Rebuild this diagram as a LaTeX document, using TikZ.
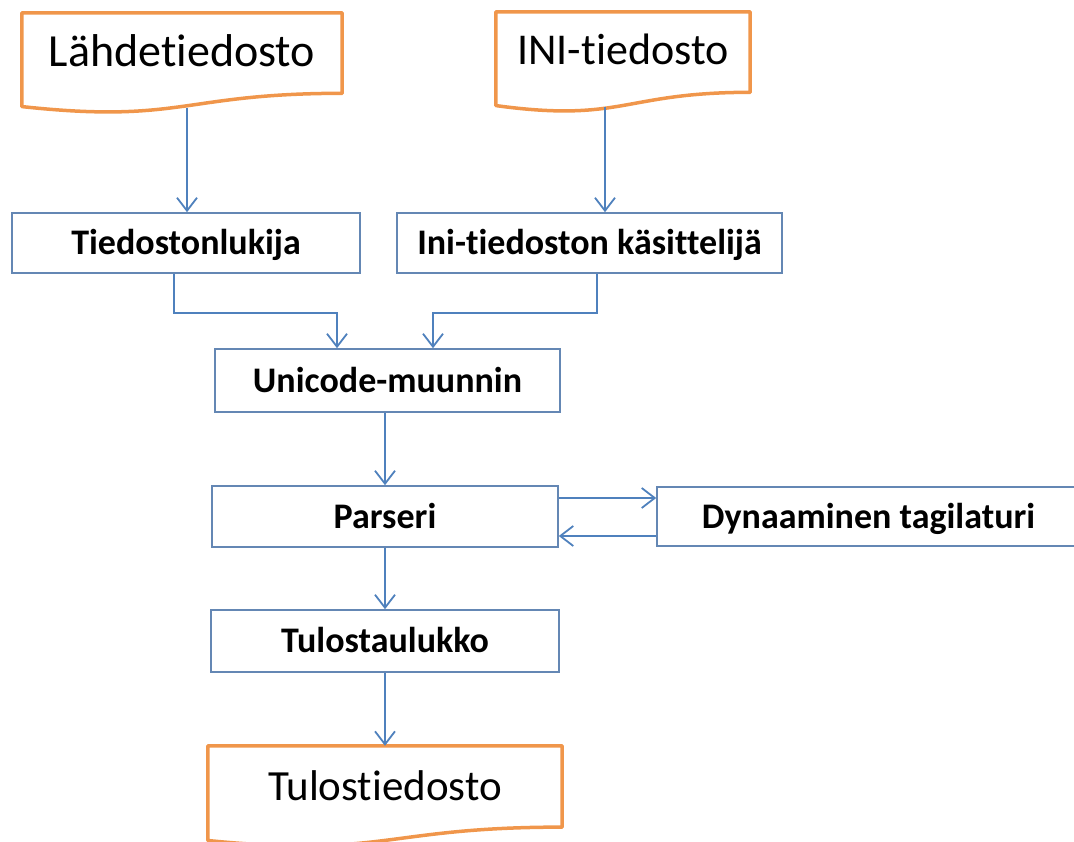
\documentclass[tikz,border=0pt]{standalone}
\usepackage{fontspec}
\setmainfont{Carlito}[Ligatures=NoCommon]
\usetikzlibrary{arrows.meta,calc}
\definecolor{lineblue}{RGB}{79,129,189}
\definecolor{boxblue}{RGB}{100,135,180}
\definecolor{docorange}{RGB}{240,150,75}
\tikzset{
  procbox/.style={draw=boxblue, line width=1.6pt, fill=white, inner sep=0pt,
    font=\bfseries\fontsize{36}{40}\selectfont, text height=23pt, text depth=0pt},
  docnode/.style={inner sep=0pt},
  docline/.style={draw=docorange, line width=3.5pt, line join=round},
  conn/.style={draw=lineblue, line width=1.8pt},
  arr/.style={conn, -{Straight Barb[length=13pt,width=20pt]}}
}
\newcommand\docoutline[1]{%
  \draw[docline] (#1.north west) -- (#1.north east)
    -- ($(#1.north east)!0.802!(#1.south east)$)
    .. controls ($(#1.north)!0.802!(#1.south)$) and ($(#1.north)!1.1075!(#1.south)$)
    .. ($(#1.north west)!0.934!(#1.south west)$) -- cycle;}
\begin{document}
\begin{tikzpicture}[x=1pt,y=-1pt]
\useasboundingbox (0,0) rectangle (1074,842);
\clip (0,0) rectangle (1074,842);

% documents
\node[docnode, minimum width=320pt, minimum height=100pt,
  font=\fontsize{46}{50}\selectfont, text height=29.6pt, text depth=21.6pt]
  (lahde) at (182,63) {Lähdetiedosto};
\docoutline{lahde}
\node[docnode, minimum width=254pt, minimum height=100pt,
  font=\fontsize{44}{48}\selectfont, text height=28.3pt, text depth=22.3pt]
  (initf) at (623,62) {INI-tiedosto};
\docoutline{initf}
\node[docnode, minimum width=354pt, minimum height=101pt,
  font=\fontsize{43}{47}\selectfont, text height=27.7pt, text depth=20.7pt]
  (tulos) at (385,796.5) {Tulostiedosto};
\docoutline{tulos}

% process boxes
\node[procbox, minimum width=348pt, minimum height=60pt] (tied) at (186,243) {Tiedostonlukija};
\node[procbox, minimum width=385pt, minimum height=60pt] (inik) at (589.5,243) {Ini-tiedoston käsittelijä};
\node[procbox, minimum width=345pt, minimum height=63pt] (uni) at (387.5,380.5) {Unicode-muunnin};
\node[procbox, minimum width=346pt, minimum height=61pt] (pars) at (385,516.5) {Parseri};
\node[procbox, minimum width=423pt, minimum height=59pt] (dyn) at (868.5,516.5) {Dynaaminen tagilaturi};
\node[procbox, minimum width=348pt, minimum height=62pt] (tulk) at (385,641) {Tulostaulukko};

% connectors
\coordinate (lahdeout) at (187,108);
\coordinate (iniout) at (605,107);
\draw[arr] (lahdeout) -- (lahdeout |- tied.north);
\draw[arr] (iniout) -- (iniout |- inik.north);

\coordinate (t1) at ([xshift=-12pt]tied.south);
\coordinate (u1) at ([xshift=-50.5pt]uni.north);
\draw[arr] (t1) -- ++(0,39) -| (u1);
\coordinate (i1) at ([xshift=7.5pt]inik.south);
\coordinate (u2) at ([xshift=45.5pt]uni.north);
\draw[arr] (i1) -- ++(0,39) -| (u2);

\coordinate (u3) at ([xshift=-2.5pt]uni.south);
\draw[arr] (u3) -- (u3 |- pars.north);

\coordinate (p1) at ([yshift=18.5pt]pars.east);
\draw[arr] (p1) -- (p1 -| dyn.west);
\coordinate (p2) at ([yshift=-19.5pt]dyn.west);
\draw[arr] (p2) -- (p2 -| pars.east);

\draw[arr] (pars.south) -- (pars.south |- tulk.north);
\draw[arr] (tulk.south) -- (tulk.south |- tulos.north);
\end{tikzpicture}
\end{document}
